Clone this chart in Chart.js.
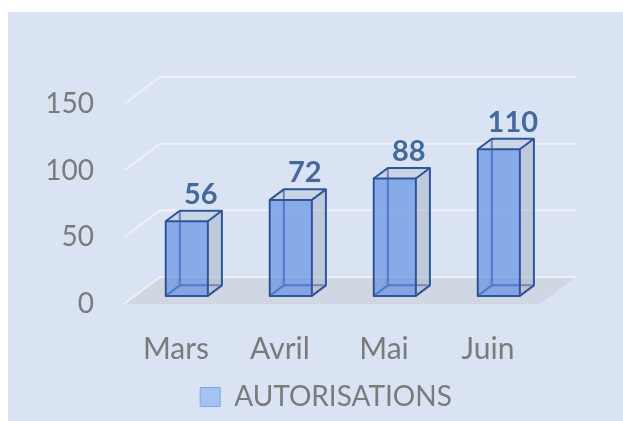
<!DOCTYPE html>
<html>
<head>
<meta charset="utf-8">
<script src="https://cdn.jsdelivr.net/npm/chart.js@4.4.1/dist/chart.umd.min.js"></script>
<style>
    html, body { margin: 0; padding: 0; background: #ffffff; }
    #wrap { position: absolute; left: 8px; top: 12px; width: 615px; height: 409px; background: #dae3f3; }
</style>
</head>
<body>
<div id="wrap"><canvas id="chart" width="615" height="409"></canvas></div>
<script>
const categories = ["Mars", "Avril", "Mai", "Juin"];
const autorisations = [56, 72, 88, 110];
const yTicks = [0, 50, 100, 150];
const seriesName = "AUTORISATIONS";

// 3d look: depth vector of the floor, and where the bars sit inside it
const DEPTH = { x: 36, y: -27 };
const BAR_FRONT = 0.3;
const BAR_BACK = 0.69;

const GRAY = "#7b7b7b";
const FONT = "Lato, 'Open Sans', sans-serif";

const fake3d = {
    id: "fake3d",
    afterLayout(chart) {
        // legend is centred on the whole plot box, not the area left of the padding
        if (chart.legend) {
            chart.legend.left += 52;
            chart.legend.right += 52;
        }
    },
    beforeDatasetsDraw(chart) {
        const ctx = chart.ctx;
        const { left, right } = chart.chartArea;
        const yScale = chart.scales.y;
        const y0 = yScale.getPixelForValue(0);

        ctx.save();
        // floor
        ctx.fillStyle = "#d1d7e2";
        ctx.beginPath();
        ctx.moveTo(left, y0);
        ctx.lineTo(right, y0);
        ctx.lineTo(right + DEPTH.x, y0 + DEPTH.y);
        ctx.lineTo(left + DEPTH.x, y0 + DEPTH.y);
        ctx.closePath();
        ctx.fill();

        // gridlines on back wall + side wall
        ctx.strokeStyle = "#eef0f5";
        ctx.lineWidth = 2;
        yTicks.forEach((v) => {
            const yf = yScale.getPixelForValue(v);
            ctx.beginPath();
            ctx.moveTo(left, yf);
            ctx.lineTo(left + DEPTH.x, yf + DEPTH.y);
            ctx.lineTo(right + DEPTH.x, yf + DEPTH.y);
            ctx.stroke();
        });
        ctx.restore();
    },
    beforeDatasetDraw() {
        // skip the flat bars, drawn as boxes below
        return false;
    },
    afterDatasetsDraw(chart) {
        const ctx = chart.ctx;
        const meta = chart.getDatasetMeta(0);
        const dx1 = DEPTH.x * BAR_FRONT, dy1 = DEPTH.y * BAR_FRONT;
        const bx = DEPTH.x * (BAR_BACK - BAR_FRONT), by = DEPTH.y * (BAR_BACK - BAR_FRONT);
        const edge = "#2f5597";

        ctx.save();
        ctx.lineJoin = "round";
        meta.data.forEach((bar, i) => {
            const p = bar.getProps(["x", "y", "base", "width"], true);
            const l = p.x - p.width / 2 + dx1;
            const r = p.x + p.width / 2 + dx1;
            const t = p.y + dy1;
            const b = p.base + dy1;

            // hidden edges first
            ctx.strokeStyle = edge;
            ctx.lineWidth = 2;
            ctx.beginPath();
            ctx.moveTo(l + bx, t + by);
            ctx.lineTo(l + bx, b + by);
            ctx.lineTo(r + bx, b + by);
            ctx.moveTo(l, b);
            ctx.lineTo(l + bx, b + by);
            ctx.stroke();

            // side face
            ctx.fillStyle = "rgba(170, 181, 202, 0.55)";
            ctx.beginPath();
            ctx.moveTo(r, t);
            ctx.lineTo(r + bx, t + by);
            ctx.lineTo(r + bx, b + by);
            ctx.lineTo(r, b);
            ctx.closePath();
            ctx.fill();
            // top face
            ctx.fillStyle = "rgba(180, 192, 212, 0.45)";
            ctx.beginPath();
            ctx.moveTo(l, t);
            ctx.lineTo(l + bx, t + by);
            ctx.lineTo(r + bx, t + by);
            ctx.lineTo(r, t);
            ctx.closePath();
            ctx.fill();
            // front face
            ctx.fillStyle = "rgba(92, 140, 226, 0.66)";
            ctx.fillRect(l, t, r - l, b - t);

            // visible edges
            ctx.strokeStyle = edge;
            ctx.lineWidth = 2;
            ctx.strokeRect(l, t, r - l, b - t);
            ctx.beginPath();
            ctx.moveTo(l, t);
            ctx.lineTo(l + bx, t + by);
            ctx.lineTo(r + bx, t + by);
            ctx.lineTo(r + bx, b + by);
            ctx.lineTo(r, b);
            ctx.moveTo(r, t);
            ctx.lineTo(r + bx, t + by);
            ctx.stroke();

            // value label
            ctx.fillStyle = "#44699b";
            ctx.font = "bold 29px " + FONT;
            ctx.textAlign = "center";
            ctx.textBaseline = "alphabetic";
            ctx.fillText(String(autorisations[i]), (l + r) / 2 + bx, t + by - 7);
        });
        ctx.restore();
    },
};

new Chart(document.getElementById("chart"), {
    type: "bar",
    data: {
        labels: categories,
        datasets: [
            {
                label: seriesName,
                data: autorisations,
                backgroundColor: "#a4c3f3",
                borderColor: "#7fa6e6",
                borderWidth: 1,
                categoryPercentage: 1,
                barPercentage: 0.405,
            },
        ],
    },
    options: {
        responsive: false,
        animation: false,
        layout: { padding: { top: 92, left: 0, right: 83, bottom: 0 } },
        plugins: {
            tooltip: { enabled: false },
            legend: {
                position: "bottom",
                labels: {
                    color: GRAY,
                    font: { family: FONT, size: 28 },
                    boxWidth: 20,
                    boxHeight: 19,
                    padding: 10,
                },
            },
        },
        scales: {
            x: {
                grid: { display: false },
                border: { display: false },
                ticks: { color: GRAY, font: { family: FONT, size: 30 }, padding: 19, maxRotation: 0 },
                afterFit: (s) => { s.height = 69; },
            },
            y: {
                min: 0,
                max: 150,
                grid: { display: false, drawTicks: false },
                border: { display: false },
                ticks: {
                    stepSize: 50,
                    color: GRAY,
                    font: { family: FONT, size: 28 },
                    padding: 30,
                },
                afterBuildTicks: (s) => { s.ticks = yTicks.map((v) => ({ value: v })); },
                afterFit: (s) => { s.width = 116; },
            },
        },
    },
    plugins: [fake3d],
});
</script>
</body>
</html>
